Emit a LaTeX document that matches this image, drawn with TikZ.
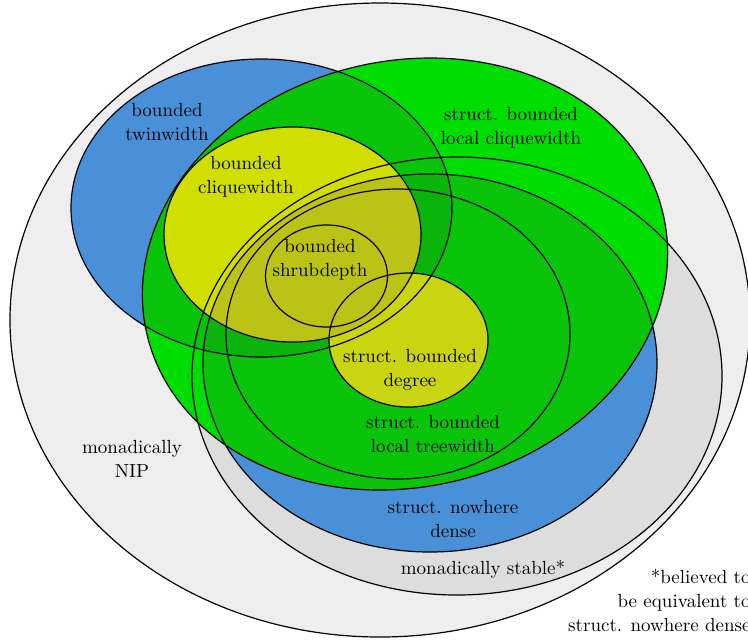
\documentclass[tikz,border=0pt]{standalone}
\definecolor{cN}{HTML}{EEEEEE}
\definecolor{cS}{HTML}{DDDDDD}
\definecolor{cBlue}{HTML}{4A90D9}
\definecolor{cGreen}{HTML}{00DD00}
\definecolor{cGreenMid}{HTML}{0AC40A}
\definecolor{cGreenDark}{HTML}{0AB40A}
\definecolor{cYellow}{HTML}{D0DF00}
\definecolor{cYellowB}{HTML}{C8D510}
\definecolor{cOlive}{HTML}{BBC416}
\tikzset{
  outline/.style={draw=black, line width=0.6pt},
  lbl/.style={align=center, inner sep=0pt, font=\fontsize{9.5}{12}\selectfont},
  pN/.style={insert path={(380,320) ellipse [x radius=185pt, y radius=158.5pt]}},
  pS/.style={insert path={(457,376) ellipse [x radius=132.5pt, y radius=109.5pt]}},
  pND/.style={insert path={(430,363) ellipse [x radius=113.5pt, y radius=94.5pt]}},
  pLT/.style={insert path={(398,334) ellipse [x radius=86pt, y radius=72.5pt]}},
  pTW/.style={insert path={(261.5,208) ellipse [x radius=95.25pt, y radius=74.5pt]}},
  pLC/.style={rotate around={13:(405,274)}, insert path={(405,274) ellipse [x radius=132.5pt, y radius=106.5pt]}},
  pCW/.style={insert path={(292.5,234.5) ellipse [x radius=64.25pt, y radius=53.75pt]}},
  pSD/.style={insert path={(326.5,276) ellipse [x radius=30.5pt, y radius=25.5pt]}},
  pBD/.style={insert path={(408.5,340) ellipse [x radius=39.75pt, y radius=33.5pt]}},
}
\begin{document}
\begin{tikzpicture}[x=0.5pt,y=-0.5pt]
\useasboundingbox (0,0) rectangle (748,639);
% fills
\fill[cN, pN];
\fill[cS, pS];
\fill[cBlue, pND];
\fill[cBlue, pTW];
\fill[cGreen, pLC];
\begin{scope}
  \clip[pLC];
  \fill[cGreenMid, pND];
  \fill[cGreenMid, pTW];
  \clip[pND];
  \fill[cGreenDark, pTW];
\end{scope}
\fill[cYellow, pCW];
\fill[cYellowB, pBD];
\begin{scope}
  \clip[pND];
  \fill[cOlive, pCW];
\end{scope}
% outlines
\path[outline, pN];
\path[outline, pS];
\path[outline, pND];
\path[outline, pLT];
\path[outline, pTW];
\path[outline, pLC];
\path[outline, pCW];
\path[outline, pSD];
\path[outline, pBD];
% labels
\node[lbl] (tw) at (167,122) {bounded\\twinwidth};
\node[lbl] (lc) at (511,128) {struct. bounded\\local cliquewidth};
\node[lbl] (cw) at (246,177) {bounded\\cliquewidth};
\node[lbl] (sd) at (320,260) {bounded\\shrubdepth};
\node[lbl] (bd) at (410,370) {struct. bounded\\degree};
\node[lbl] (lt) at (433,434) {struct. bounded\\local treewidth};
\node[lbl] (nip) at (132,459) {monadically\\NIP};
\node[lbl] (nd) at (453,519) {struct. nowhere\\dense};
\node[lbl] (st) at (483,569) {monadically stable*};
\node[lbl, align=right, anchor=east] (note) at (751,600) {*believed to\\be equivalent to\\struct. nowhere dense};
\end{tikzpicture}
\end{document}
